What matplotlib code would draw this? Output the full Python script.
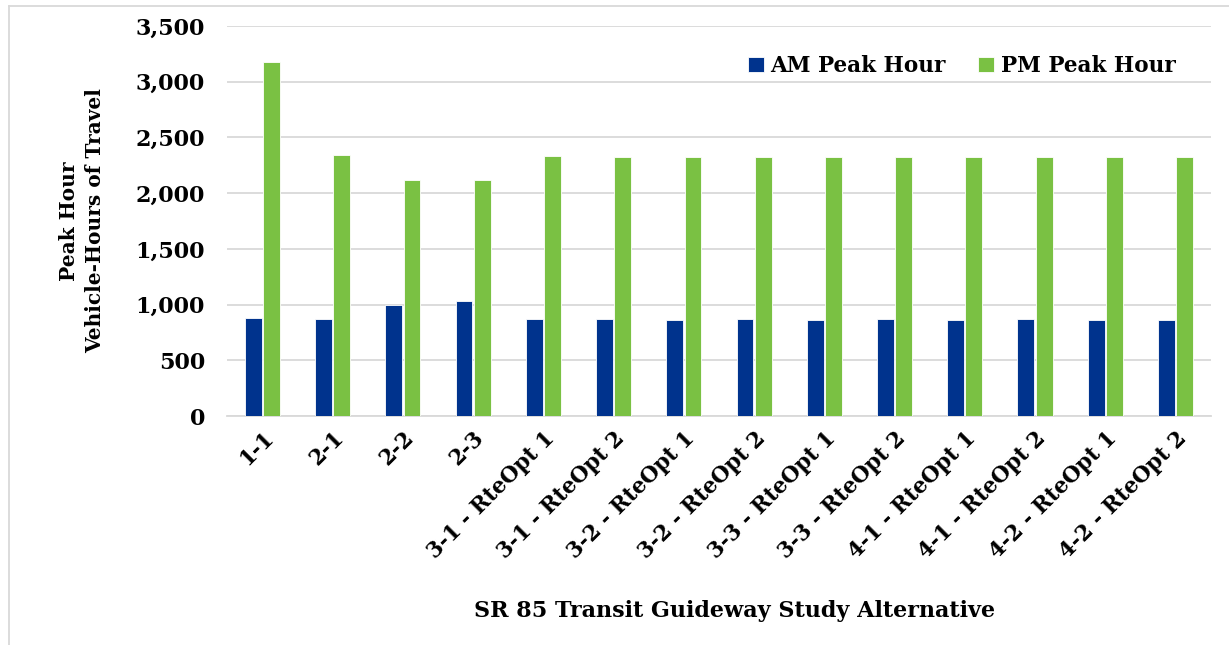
import numpy as np
import matplotlib.pyplot as plt
from matplotlib.lines import Line2D
from matplotlib.ticker import FuncFormatter

alternatives = ["1-1", "2-1", "2-2", "2-3",
                "3-1 - RteOpt 1", "3-1 - RteOpt 2",
                "3-2 - RteOpt 1", "3-2 - RteOpt 2",
                "3-3 - RteOpt 1", "3-3 - RteOpt 2",
                "4-1 - RteOpt 1", "4-1 - RteOpt 2",
                "4-2 - RteOpt 1", "4-2 - RteOpt 2"]
am_peak = [880, 871, 998, 1036, 866, 866, 865, 866, 865, 866, 865, 866, 865, 865]
pm_peak = [3178, 2343, 2115, 2113, 2328, 2323, 2323, 2326, 2323, 2326, 2323, 2326, 2326, 2325]

AM_COLOR = "#00338D"
PM_COLOR = "#7AC143"
GRID = "#D9D9D9"

plt.rcParams["font.family"] = ["DejaVu Serif"]
plt.rcParams["font.weight"] = "bold"

fig = plt.figure(figsize=(12.29, 6.45), dpi=100)
ax = fig.add_axes([0.185, 0.355, 0.800, 0.605])

x = np.arange(len(alternatives))
w = 0.24
ax.bar(x - 0.13, am_peak, w, color=AM_COLOR, edgecolor="white", linewidth=0.6,
       label="AM Peak Hour", zorder=3)
ax.bar(x + 0.13, pm_peak, w, color=PM_COLOR, edgecolor="white", linewidth=0.6,
       label="PM Peak Hour", zorder=3)

ax.set_xlim(-0.5, len(alternatives) - 0.5)
ax.set_ylim(0, 3500)
ax.set_yticks(np.arange(0, 3501, 500))
ax.yaxis.set_major_formatter(FuncFormatter(lambda v, _: f"{v:,.0f}"))
ax.grid(axis="y", color=GRID, linewidth=1.3, zorder=0)
for s in ["top", "right", "left"]:
    ax.spines[s].set_visible(False)
ax.spines["bottom"].set_color(GRID)
ax.spines["bottom"].set_linewidth(1.3)
ax.tick_params(axis="y", length=0, labelsize=16, pad=16)
ax.tick_params(axis="x", length=0, labelsize=15.5, pad=8)

ax.set_xticks(x)
ax.set_xticklabels(alternatives, rotation=45, ha="right", rotation_mode="anchor",
                   fontweight="bold")
for lbl in ax.get_yticklabels():
    lbl.set_fontweight("bold")

ax.set_ylabel("Peak Hour\nVehicle-Hours of Travel", fontsize=14.5, fontweight="bold",
              labelpad=22, linespacing=1.4)
fig.text(0.598, 0.052, "SR 85 Transit Guideway Study Alternative",
         ha="center", va="center", fontsize=16, fontweight="bold")

ax.legend(loc="upper right", bbox_to_anchor=(0.984, 0.975), ncol=2, frameon=False,
          handlelength=0.75, handleheight=0.75, handletextpad=0.3,
          columnspacing=1.5, prop={"weight": "bold", "size": 15.5})

# light outline along the top and left of the figure
fig.add_artist(Line2D([9 / 1229, 1.0], [1 - 6 / 645, 1 - 6 / 645],
                      color=GRID, linewidth=1.3, transform=fig.transFigure))
fig.add_artist(Line2D([9 / 1229, 9 / 1229], [0.0, 1 - 6 / 645],
                      color=GRID, linewidth=1.3, transform=fig.transFigure))

fig.savefig("out.png", dpi=100)
